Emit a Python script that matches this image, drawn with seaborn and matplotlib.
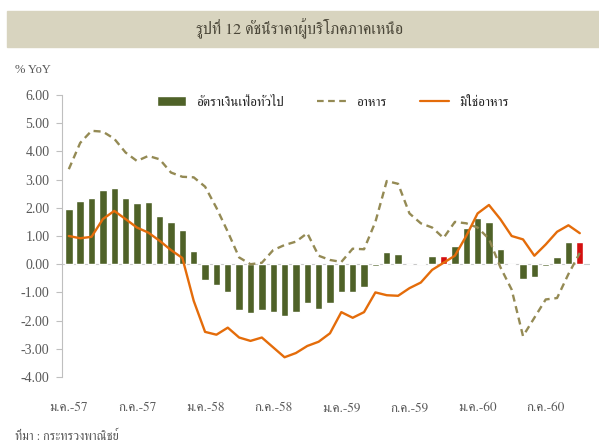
"""
Northern region CPI chart (Thai), bars + two lines.
"""
import matplotlib
matplotlib.use("Agg")
import matplotlib.pyplot as plt
from matplotlib import font_manager
from matplotlib.ft2font import FT2Font
from matplotlib.patches import Patch, Rectangle
from matplotlib.lines import Line2D
import pandas as pd
import seaborn as sns

sns.set_theme(style="white")

# monthly data, Jan-57 .. Oct-60
headline = [1.95, 2.25, 2.36, 2.64, 2.69, 2.34, 2.16, 2.19, 1.71, 1.50, 1.21, 0.47,
            -0.55, -0.74, -0.97, -1.62, -1.74, -1.62, -1.71, -1.83, -1.71, -1.38, -1.60, -1.38,
            -1.00, -0.97, -0.80, -0.05, 0.44, 0.35, 0.02, 0.05, 0.29, 0.29, 0.65, 1.30,
            1.65, 1.48, 0.53, -0.02, -0.51, -0.44, -0.08, 0.24, 0.77, 0.77]
food = [3.37, 4.30, 4.73, 4.70, 4.45, 3.96, 3.66, 3.84, 3.72, 3.25, 3.10, 3.08,
        2.75, 2.00, 1.15, 0.24, 0.00, 0.05, 0.50, 0.68, 0.80, 1.10, 0.30, 0.15,
        0.08, 0.55, 0.53, 1.50, 2.95, 2.85, 1.80, 1.45, 1.30, 0.93, 1.50, 1.45,
        1.30, 0.90, -0.10, -0.90, -2.55, -1.90, -1.25, -1.20, -0.35, 0.40]
nonfood = [1.00, 0.92, 0.97, 1.60, 1.89, 1.60, 1.30, 1.12, 0.83, 0.50, 0.22, -1.30,
           -2.40, -2.50, -2.25, -2.60, -2.72, -2.60, -2.95, -3.30, -3.15, -2.90, -2.75, -2.45,
           -1.70, -1.90, -1.70, -1.00, -1.10, -1.12, -0.85, -0.65, -0.20, 0.05, 0.30, 1.00,
           1.80, 2.10, 1.60, 1.00, 0.88, 0.30, 0.70, 1.15, 1.38, 1.10]
highlight = [33, 45]  # same month, latest two years
tick_labels = ["ม.ค.-57", "ก.ค.-57", "ม.ค.-58", "ก.ค.-58",
               "ม.ค.-59", "ก.ค.-59", "ม.ค.-60", "ก.ค.-60"]
series_names = ["อัตราเงินเฟ้อทั่วไป", "อาหาร", "มิใช่อาหาร"]

green, red, tan, orange = "#4f6228", "#d40f0f", "#948a54", "#e46c0a"
grey = "#595959"


def find_thai_font():
    names = []
    for f in font_manager.fontManager.ttflist:
        try:
            if 0x0E01 in FT2Font(f.fname).get_charmap():
                names.append(f.name)
        except Exception:
            pass
    serif = [n for n in names if "Serif" in n]
    if serif:
        return serif[0]
    return names[0] if names else "DejaVu Sans"


thai = find_thai_font()
plt.rcParams["font.family"] = [thai, "Liberation Serif", "DejaVu Sans"]
plt.rcParams["axes.unicode_minus"] = False

df = pd.DataFrame({"idx": range(len(headline)), "headline": headline,
                   "food": food, "nonfood": nonfood})
df["hl"] = ["red" if i in highlight else "green" for i in df["idx"]]

fig = plt.figure(figsize=(5.99, 4.48), dpi=100)
fig.patches.append(Rectangle((7 / 599, 1 - 47 / 448), 592 / 599, 36 / 448,
                             transform=fig.transFigure, color="#d8d4bf", zorder=0))
fig.text(0.5, 1 - 29 / 448, "รูปที่ 12 ดัชนีราคาผู้บริโภคภาคเหนือ",
         ha="center", va="center", fontsize=11.5, color="#4a4638")

ax = fig.add_axes([62 / 599, 1 - 377 / 448, 528 / 599, 282 / 448])
sns.barplot(data=df, x="idx", y="headline", hue="hl",
            palette={"green": green, "red": red}, dodge=False,
            width=0.65, legend=False, ax=ax, zorder=2, saturation=1)
sns.lineplot(data=df, x="idx", y="food", color=tan, lw=1.7,
             linestyle=(0, (3, 2)), ax=ax, zorder=3)
sns.lineplot(data=df, x="idx", y="nonfood", color=orange, lw=1.7, ax=ax, zorder=4)
ax.axhline(0, color="#c8c8c8", lw=0.8, zorder=1)

ax.set_xlim(-0.6, 45.9)
ax.set_ylim(-4, 6)
ax.set_yticks(range(-4, 7))
ax.set_yticklabels([f"{v:.2f}" for v in range(-4, 7)],
                   family=["Liberation Serif"], fontsize=10, color=grey)
ax.set_xticks(range(0, len(headline), 6))
ax.set_xticklabels(tick_labels, fontsize=9.5, color=grey)
ax.tick_params(axis="y", left=True, length=4, width=0.8, color="#bfbfbf", pad=5)
ax.tick_params(axis="x", bottom=False, pad=12.5)
ax.set_xlabel("")
ax.set_ylabel("")
for s in ["top", "right", "bottom"]:
    ax.spines[s].set_visible(False)
ax.spines["left"].set_color("#bfbfbf")
ax.spines["left"].set_linewidth(0.8)

handles = [Patch(facecolor=green),
           Line2D([], [], color=tan, lw=1.6, linestyle=(0, (3, 2))),
           Line2D([], [], color=orange, lw=1.6)]
ax.legend(handles, series_names, ncol=3, loc="center",
          bbox_to_anchor=(0.513, 0.975), frameon=False, fontsize=9.5,
          handlelength=2.2, handleheight=0.9, columnspacing=2.5, handletextpad=0.8)

fig.text(15 / 599, 1 - 70 / 448, "% YoY", fontsize=9, color=grey,
         family=["Liberation Serif"], va="center")
fig.text(15 / 599, 1 - 437 / 448, "ที่มา : กระทรวงพาณิชย์", fontsize=9,
         color=grey, va="center")

fig.savefig("out.png", dpi=100)
